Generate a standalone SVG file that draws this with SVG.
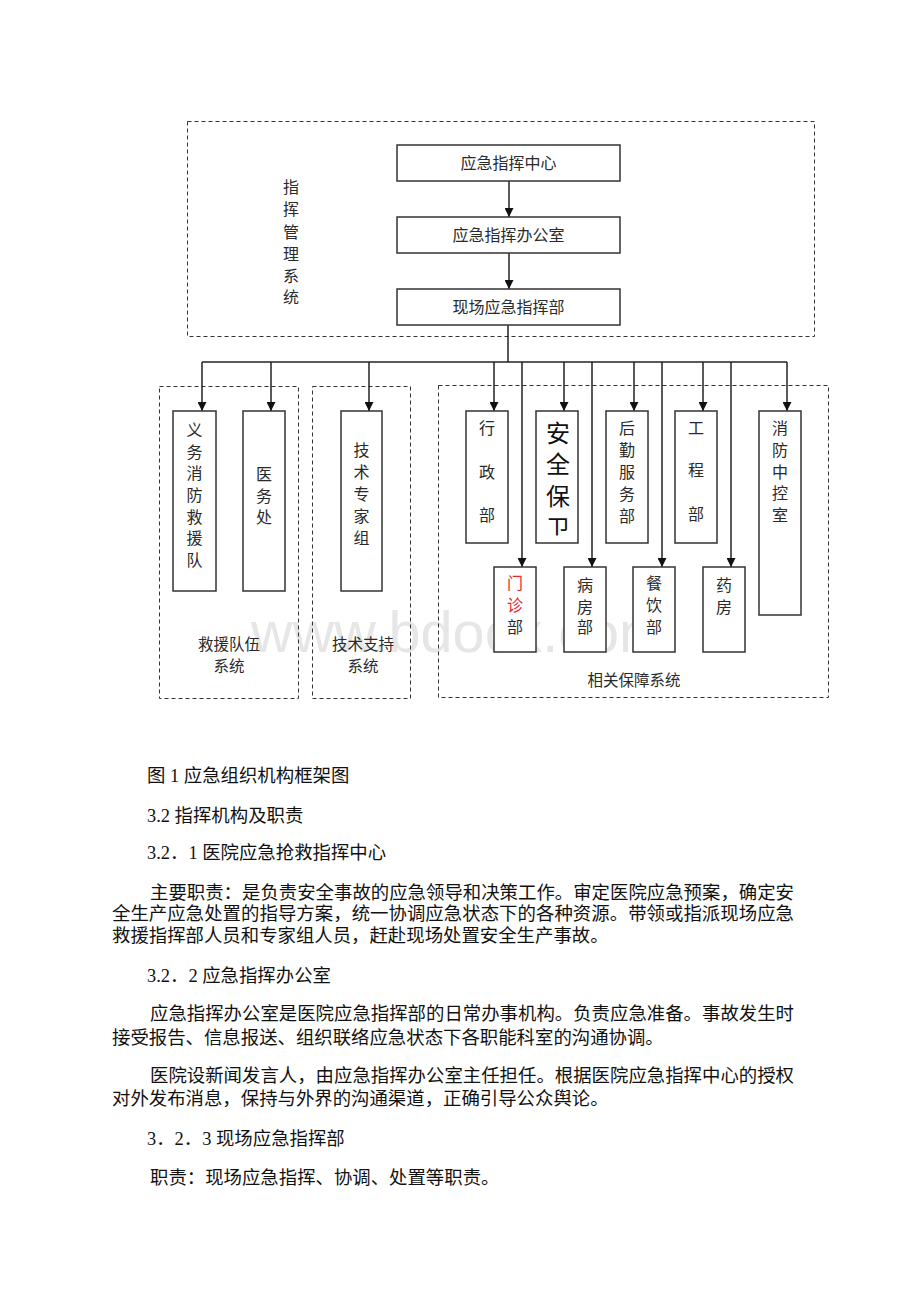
<svg xmlns="http://www.w3.org/2000/svg" width="920" height="1302" viewBox="0 0 920 1302">
<style>
.dash{fill:none;stroke:#333;stroke-width:1;stroke-dasharray:4 3}
.box{fill:#fff;stroke:#333;stroke-width:1.5}
.lbl{font-family:"Noto Sans CJK SC",sans-serif;font-size:16px;fill:#2a2a2a;text-anchor:middle}
.sys{font-family:"Noto Sans CJK SC",sans-serif;font-size:15.5px;fill:#2a2a2a;text-anchor:middle}
.big{font-family:"Noto Sans CJK SC",sans-serif;font-size:24px;fill:#111;text-anchor:middle}
.red{fill:#e8262b}
.conn{stroke:#222;stroke-width:1.5;fill:none}
.arr{marker-end:url(#ah)}
.body{font-family:"Liberation Serif","Noto Sans CJK SC",serif;font-size:18.4px;fill:#111}
.wm{font-family:"Liberation Sans",sans-serif;font-size:58px;fill:#e6e6e6}
</style>
<defs>
<marker id="ah" viewBox="0 0 10 10" refX="10" refY="5" markerWidth="9" markerHeight="9" markerUnits="userSpaceOnUse" orient="auto">
<path d="M0,0 L10,5 L0,10 z" fill="#111"/>
</marker>
<clipPath id="clipWei"><rect x="536" y="411" width="42" height="124.5"/></clipPath>
</defs>
<rect width="920" height="1302" fill="#fff"/>
<text class="wm" x="251" y="652" textLength="416" lengthAdjust="spacingAndGlyphs">www.bdocx.com</text>

<g id="sys-command">
<rect class="dash" x="187.5" y="121.5" width="627" height="215"/>
<text class="lbl"><tspan x="291" y="193">指</tspan><tspan x="291" y="215">挥</tspan><tspan x="291" y="238">管</tspan><tspan x="291" y="260">理</tspan><tspan x="291" y="282">系</tspan><tspan x="291" y="303">统</tspan></text>
</g>
<g id="sys-rescue">
<rect class="dash" x="159.5" y="386.5" width="139" height="312"/>
<text class="sys" x="229" y="650">救援队伍</text>
<text class="sys" x="229" y="672">系统</text>
</g>
<g id="sys-tech">
<rect class="dash" x="312.5" y="386.5" width="98" height="312"/>
<text class="sys" x="363" y="650">技术支持</text>
<text class="sys" x="363" y="672">系统</text>
</g>
<g id="sys-support">
<rect class="dash" x="438.5" y="385.5" width="390" height="312"/>
<text class="sys" x="634" y="686">相关保障系统</text>
</g>

<g id="connectors">
<path class="conn arr" d="M509,181 V217"/>
<path class="conn arr" d="M509,253 V289"/>
<path class="conn" d="M508,325 V362"/>
<path class="conn" d="M202,362 H787"/>
<path class="conn arr" d="M202,362 V411"/>
<path class="conn arr" d="M271,362 V411"/>
<path class="conn arr" d="M369,362 V411"/>
<path class="conn arr" d="M494,362 V411"/>
<path class="conn arr" d="M564,362 V411"/>
<path class="conn arr" d="M634,362 V411"/>
<path class="conn arr" d="M703,362 V411"/>
<path class="conn arr" d="M787,362 V411"/>
<path class="conn arr" d="M522,362 V567"/>
<path class="conn arr" d="M592,362 V567"/>
<path class="conn arr" d="M662,362 V567"/>
<path class="conn arr" d="M731,362 V567"/>
</g>

<g id="n-center"><rect class="box" x="397" y="145" width="223" height="36"/><text class="lbl" x="508.5" y="169">应急指挥中心</text></g>
<g id="n-office"><rect class="box" x="397" y="217" width="223" height="36"/><text class="lbl" x="508.5" y="241">应急指挥办公室</text></g>
<g id="n-field"><rect class="box" x="397" y="289" width="223" height="36"/><text class="lbl" x="508.5" y="313">现场应急指挥部</text></g>

<g id="n-fire-team"><rect class="box" x="173" y="411" width="43" height="180"/>
<text class="lbl"><tspan x="194.5" y="436">义</tspan><tspan x="194.5" y="458">务</tspan><tspan x="194.5" y="479">消</tspan><tspan x="194.5" y="501">防</tspan><tspan x="194.5" y="523">救</tspan><tspan x="194.5" y="544">援</tspan><tspan x="194.5" y="566">队</tspan></text></g>
<g id="n-medical"><rect class="box" x="243" y="411" width="42" height="180"/>
<text class="lbl"><tspan x="264" y="480">医</tspan><tspan x="264" y="502">务</tspan><tspan x="264" y="523">处</tspan></text></g>
<g id="n-experts"><rect class="box" x="341" y="411" width="41" height="180"/>
<text class="lbl"><tspan x="361.5" y="456">技</tspan><tspan x="361.5" y="478">术</tspan><tspan x="361.5" y="500">专</tspan><tspan x="361.5" y="522">家</tspan><tspan x="361.5" y="544">组</tspan></text></g>

<g id="n-admin"><rect class="box" x="466" y="411" width="42" height="132"/>
<text class="lbl"><tspan x="487" y="434">行</tspan><tspan x="487" y="478">政</tspan><tspan x="487" y="521">部</tspan></text></g>
<g id="n-security"><rect class="box" x="536" y="411" width="42" height="132"/>
<text class="big"><tspan x="558" y="442">安</tspan><tspan x="558" y="473">全</tspan><tspan x="558" y="505">保</tspan></text>
<text class="big" x="558" y="537" clip-path="url(#clipWei)">卫</text></g>
<g id="n-logistics"><rect class="box" x="606" y="411" width="42" height="132"/>
<text class="lbl"><tspan x="627" y="434">后</tspan><tspan x="627" y="456">勤</tspan><tspan x="627" y="478">服</tspan><tspan x="627" y="500">务</tspan><tspan x="627" y="522">部</tspan></text></g>
<g id="n-engineering"><rect class="box" x="675" y="411" width="42" height="132"/>
<text class="lbl"><tspan x="696" y="434">工</tspan><tspan x="696" y="476">程</tspan><tspan x="696" y="520">部</tspan></text></g>
<g id="n-fire-control"><rect class="box" x="759" y="411" width="42" height="204"/>
<text class="lbl"><tspan x="780" y="434">消</tspan><tspan x="780" y="456">防</tspan><tspan x="780" y="478">中</tspan><tspan x="780" y="499">控</tspan><tspan x="780" y="521">室</tspan></text></g>

<g id="n-outpatient"><rect class="box" x="494" y="567" width="42" height="85"/>
<text class="lbl"><tspan class="red" x="515" y="589">门</tspan><tspan class="red" x="515" y="611">诊</tspan><tspan x="515" y="633">部</tspan></text></g>
<g id="n-ward"><rect class="box" x="564" y="567" width="42" height="85"/>
<text class="lbl"><tspan x="585" y="591">病</tspan><tspan x="585" y="613">房</tspan><tspan x="585" y="633">部</tspan></text></g>
<g id="n-catering"><rect class="box" x="633" y="567" width="42" height="85"/>
<text class="lbl"><tspan x="654" y="589">餐</tspan><tspan x="654" y="611">饮</tspan><tspan x="654" y="633">部</tspan></text></g>
<g id="n-pharmacy"><rect class="box" x="703" y="567" width="42" height="85"/>
<text class="lbl"><tspan x="724" y="591">药</tspan><tspan x="724" y="613">房</tspan></text></g>

<g id="body-text">
<text class="body" x="147" y="782">图 1 应急组织机构框架图</text>
<text class="body" x="147" y="822">3.2 指挥机构及职责</text>
<text class="body" x="147" y="859">3.2．1 医院应急抢救指挥中心</text>
<text class="body" x="150" y="899" textLength="644" lengthAdjust="spacing">主要职责：是负责安全事故的应急领导和决策工作。审定医院应急预案，确定安</text>
<text class="body" x="112" y="920" textLength="682" lengthAdjust="spacing">全生产应急处置的指导方案，统一协调应急状态下的各种资源。带领或指派现场应急</text>
<text class="body" x="112" y="942">救援指挥部人员和专家组人员，赶赴现场处置安全生产事故。</text>
<text class="body" x="147" y="982">3.2．2 应急指挥办公室</text>
<text class="body" x="150" y="1020" textLength="644" lengthAdjust="spacing">应急指挥办公室是医院应急指挥部的日常办事机构。负责应急准备。事故发生时</text>
<text class="body" x="112" y="1044">接受报告、信息报送、组织联络应急状态下各职能科室的沟通协调。</text>
<text class="body" x="150" y="1082" textLength="644" lengthAdjust="spacing">医院设新闻发言人，由应急指挥办公室主任担任。根据医院应急指挥中心的授权</text>
<text class="body" x="112" y="1105">对外发布消息，保持与外界的沟通渠道，正确引导公众舆论。</text>
<text class="body" x="147" y="1145">3．2．3 现场应急指挥部</text>
<text class="body" x="150" y="1184">职责：现场应急指挥、协调、处置等职责。</text>
</g>
</svg>
